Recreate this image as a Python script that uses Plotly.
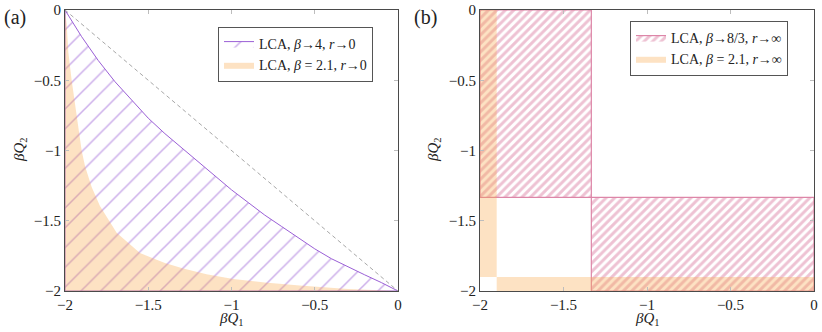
import plotly.graph_objects as go
from plotly.subplots import make_subplots

# ---- data ----
# panel (a): boundary curve of the LCA beta->4, r->0 region
purple_x = [-2.0, -1.95, -1.9, -1.8, -1.7, -1.6, -1.5, -1.4, -1.3, -1.2, -1.1, -1.0, -0.9, -0.8, -0.7, -0.6, -0.5, -0.4, -0.3, -0.2, -0.1, 0.0]
purple_y = [0.0, -0.1, -0.19, -0.36, -0.51, -0.64, -0.77, -0.88, -0.98, -1.08, -1.18, -1.28, -1.37, -1.46, -1.54, -1.62, -1.70, -1.77, -1.83, -1.885, -1.94, -2.0]
# panel (a): boundary curve of the LCA beta=2.1, r->0 region
orange_x = [-2.0, -1.99, -1.98, -1.96, -1.93, -1.90, -1.88, -1.84, -1.79, -1.69, -1.55, -1.4, -1.29, -1.15, -0.99, -0.8, -0.59, -0.3, 0.0]
orange_y = [0.0, -0.1, -0.3, -0.5, -0.75, -1.0, -1.11, -1.26, -1.395, -1.585, -1.73, -1.80, -1.84, -1.88, -1.915, -1.94, -1.96, -1.985, -2.0]
# panel (b): rectangle limits
b_pink_edge = -4.0 / 3.0   # beta -> 8/3, r -> inf
b_orange_edge = -1.9       # beta = 2.1, r -> inf
ax_min, ax_max = -2.0, 0.0

tick_vals = [-2, -1.5, -1, -0.5, 0]
tick_text = ["\u22122", "\u22121.5", "\u22121", "\u22120.5", "0"]

labels_a = ["LCA, <i>\u03b2</i>\u21924, <i>r</i>\u21920", "LCA, <i>\u03b2</i> = 2.1, <i>r</i>\u21920"]
labels_b = ["LCA, <i>\u03b2</i>\u21928/3, <i>r</i>\u2192\u221e", "LCA, <i>\u03b2</i> = 2.1, <i>r</i>\u2192\u221e"]
x_title = "<i>\u03b2Q</i><sub>1</sub>"
y_title = "<i>\u03b2Q</i><sub>2</sub>"
panel_tags = ["(a)", "(b)"]

PURPLE = "#9a5fd6"
PINK = "#dd86a8"
ORANGE_FILL = "rgba(249,166,74,0.33)"
FONT = "Liberation Serif, serif"
TXT = "#222222"

fig = make_subplots(rows=1, cols=2)

# ---- panel (a) ----
px_ = purple_x + [ax_min, purple_x[0]]
py_ = purple_y + [ax_min, purple_y[0]]
fig.add_trace(go.Scatter(
    x=px_, y=py_, mode="lines", fill="toself",
    line=dict(color=PURPLE, width=1), fillcolor="rgba(255,255,255,0)",
    fillpattern=dict(shape="/", fgcolor=PURPLE, bgcolor="rgba(255,255,255,0)", size=14, solidity=0.11),
    name=labels_a[0], legend="legend", hoverinfo="skip"), row=1, col=1)

ox = orange_x + [ax_min, orange_x[0]]
oy = orange_y + [ax_min, orange_y[0]]
fig.add_trace(go.Scatter(
    x=ox, y=oy, mode="lines", fill="toself",
    line=dict(color="rgba(249,166,74,0)", width=0), fillcolor=ORANGE_FILL,
    name=labels_a[1], legend="legend", hoverinfo="skip"), row=1, col=1)

fig.add_trace(go.Scatter(
    x=[ax_min, ax_max], y=[ax_max, ax_min], mode="lines",
    line=dict(color="#a8a8a8", width=1, dash="4px,3px"), showlegend=False, hoverinfo="skip"), row=1, col=1)

# ---- panel (b) ----
rects_pink = [
    (ax_min, b_pink_edge, b_pink_edge, ax_max),
    (b_pink_edge, ax_max, ax_min, b_pink_edge),
]
for i, (x0, x1, y0, y1) in enumerate(rects_pink):
    fig.add_trace(go.Scatter(
        x=[x0, x1, x1, x0, x0], y=[y0, y0, y1, y1, y0], mode="lines", fill="toself",
        line=dict(color=PINK, width=1.2), fillcolor="rgba(255,255,255,0)",
        fillpattern=dict(shape="/", fgcolor=PINK, bgcolor="rgba(255,255,255,0)", size=6, solidity=0.5),
        name=labels_b[0], legend="legend2", showlegend=(i == 0), hoverinfo="skip"), row=1, col=2)

rects_orange = [
    (ax_min, b_orange_edge, b_orange_edge, ax_max),
    (b_orange_edge, ax_max, ax_min, b_orange_edge),
]
for i, (x0, x1, y0, y1) in enumerate(rects_orange):
    fig.add_trace(go.Scatter(
        x=[x0, x1, x1, x0, x0], y=[y0, y0, y1, y1, y0], mode="lines", fill="toself",
        line=dict(color="rgba(249,166,74,0)", width=0), fillcolor=ORANGE_FILL,
        name=labels_b[1], legend="legend2", showlegend=(i == 0), hoverinfo="skip"), row=1, col=2)

axis_common = dict(range=[-2, 0], tickvals=tick_vals, ticktext=tick_text, ticks="inside", ticklen=4,
                   tickcolor="#bdbdbd", showline=True, linecolor="#4a4a4a", linewidth=1, mirror="ticks",
                   showgrid=False, zeroline=False, ticklabeloverflow="allow",
                   tickfont=dict(family=FONT, size=15, color=TXT))

for c in (1, 2):
    fig.update_xaxes(axis_common, row=1, col=c)
    fig.update_yaxes(axis_common, row=1, col=c)

W, H = 822, 332
ml, mr, mt, mb = 65, 8, 10, 41
pw = W - ml - mr
ph = H - mt - mb


def fx(p):
    return (p - ml) / pw


def fy(p):
    return 1 - (p - mt) / ph


annots = []
for tag, xl in zip(panel_tags, (2, 412)):
    annots.append(dict(text=tag, xref="paper", yref="paper", x=fx(xl), y=fy(4),
                       xanchor="left", yanchor="top", showarrow=False, font=dict(family=FONT, size=20, color=TXT)))
for cx, yx in ((231, 20), (647, 434)):
    annots.append(dict(text=x_title, xref="paper", yref="paper", x=fx(cx), y=fy(319),
                       xanchor="center", yanchor="middle", showarrow=False, font=dict(family=FONT, size=15, color=TXT)))
    annots.append(dict(text=y_title, xref="paper", yref="paper", x=fx(yx), y=fy(150),
                       xanchor="center", yanchor="middle", textangle=-90, showarrow=False,
                       font=dict(family=FONT, size=15, color=TXT)))

fig.update_layout(
    width=W, height=H, margin=dict(l=ml, r=mr, t=mt, b=mb, autoexpand=False),
    plot_bgcolor="white", paper_bgcolor="white",
    font=dict(family=FONT, size=14, color=TXT),
    xaxis=dict(domain=[0, fx(398)]),
    xaxis2=dict(domain=[fx(480), 1]),
    legend=dict(x=fx(218), y=fy(27), xanchor="left", yanchor="top",
                bordercolor="#555", borderwidth=1, bgcolor="white", font=dict(family=FONT, size=14, color=TXT),
                tracegroupgap=0, itemwidth=30),
    legend2=dict(x=fx(630), y=fy(21), xanchor="left", yanchor="top",
                 bordercolor="#555", borderwidth=1, bgcolor="white", font=dict(family=FONT, size=14, color=TXT),
                 tracegroupgap=0, itemwidth=30),
    annotations=annots,
)

fig.write_html("out.html", config={"displayModeBar": False},
               post_script="document.body.style.margin='0px';document.body.style.overflow='hidden';")
